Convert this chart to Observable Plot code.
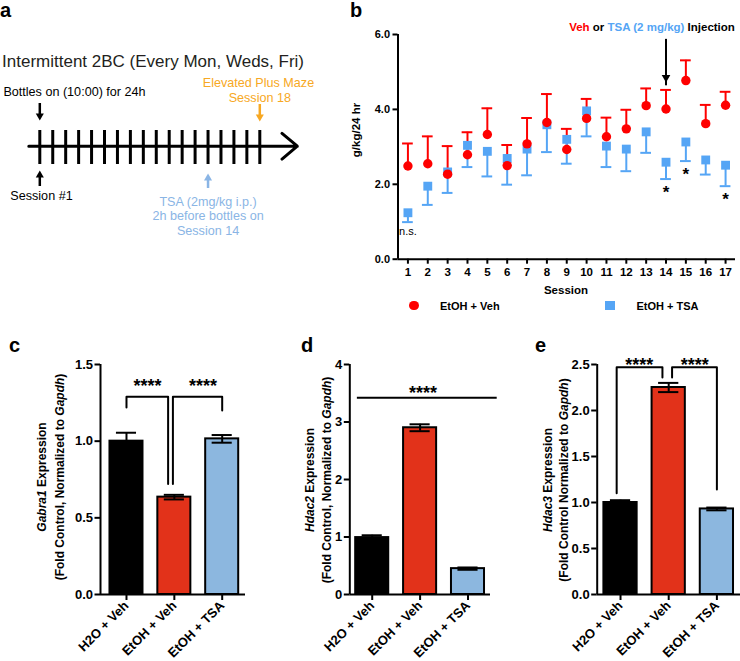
<!DOCTYPE html>
<html><head><meta charset="utf-8">
<script src="https://cdn.jsdelivr.net/npm/d3@7"></script>
<script src="https://cdn.jsdelivr.net/npm/@observablehq/plot@0.6"></script>
<style>
body{margin:0;background:#fff}
#root{position:relative;width:740px;height:661px;overflow:hidden;font-family:"Liberation Sans",Arial,Helvetica,sans-serif;color:#000}
#root svg{position:absolute;overflow:visible}
.t{position:absolute;white-space:nowrap;line-height:1}
</style></head><body><div id="root"></div>
<script>
// ---------- Panel a: timeline ----------
const timelineSessions = d3.range(1, 19);
const aTexts = [
  {x: 9.75, y: 61, t: "Intermittent 2BC (Every Mon, Weds, Fri)", c: "#231f20", s: 17},
  {x: 3.68, y: 91, t: "Bottles on (10:00) for 24h", c: "#000", s: 12.6},
  {x: 1.13, y: 195, t: "Session #1", c: "#000", s: 12.6},
  {x: 17.9, y: 82, t: "Elevated Plus Maze", c: "#f7a823", s: 12.6},
  {x: 18, y: 97.5, t: "Session 18", c: "#f7a823", s: 12.6},
  {x: 14, y: 201, t: "TSA (2mg/kg i.p.)", c: "#8ab5e5", s: 12.6},
  {x: 14, y: 215.5, t: "2h before bottles on", c: "#8ab5e5", s: 12.6},
  {x: 14, y: 230.5, t: "Session 14", c: "#8ab5e5", s: 12.6}
];
const aDownArrows = [{x: 1, from: 103, to: 120, c: "#000"}, {x: 18, from: 104, to: 121, c: "#f7a823"}];
const aUpArrows = [{x: 1, from: 186, to: 170, c: "#000"}, {x: 14, from: 188, to: 173, c: "#8ab5e5"}];

// ---------- Panel b: drinking sessions ----------
const sessions = d3.range(1, 18);
const vehMean = [2.49, 2.55, 2.27, 2.79, 3.33, 2.50, 3.08, 3.65, 2.93, 3.76, 3.27, 3.48, 4.10, 4.01, 4.77, 3.62, 4.11];
const vehSEM  = [0.60, 0.73, 0.75, 0.60, 0.70, 0.55, 0.69, 0.76, 0.55, 0.52, 0.51, 0.51, 0.46, 0.51, 0.54, 0.50, 0.36];
const tsaMean = [1.24, 1.95, 2.33, 3.04, 2.88, 2.69, 2.94, 3.59, 3.20, 3.96, 3.02, 2.94, 3.40, 2.59, 3.13, 2.65, 2.51];
const tsaSEM  = [0.25, 0.50, 0.56, 0.58, 0.67, 0.70, 0.70, 0.73, 0.65, 0.68, 0.56, 0.59, 0.56, 0.45, 0.51, 0.39, 0.56];
const starSessions = [14, 15, 17];
const nsSessions = [1];
const injectionArrow = [{x: 14, from: 5.87, to: 4.73}];
const bTicks = [0, 2, 4, 6];

// ---------- Panels c-e: qPCR ----------
const groups = ["H2O + Veh", "EtOH + Veh", "EtOH + TSA"];
const gabra1Mean = [1.00, 0.635, 1.015];
const gabra1SEM  = [0.055, 0.015, 0.025];
const hdac2Mean  = [0.99, 2.90, 0.45];
const hdac2SEM   = [0.04, 0.06, 0.02];
const hdac3Mean  = [1.00, 2.25, 0.93];
const hdac3SEM   = [0.025, 0.05, 0.015];

const RED = "#fe0000", BLUE = "#55a5f5";
const BAR_COLORS = ["#000000", "#e2321a", "#8cb7df"];
const FONT = "'Liberation Sans', Arial, Helvetica, sans-serif";

const root = document.getElementById("root");
function put(node, left, top) { node.style.left = left + "px"; node.style.top = top + "px"; root.appendChild(node); return node; }
function txt(content, x, y, css = {}, transform = "translate(-50%,-50%)") {
  const d = document.createElement("div");
  d.className = "t"; d.innerHTML = content;
  d.style.left = x + "px"; d.style.top = y + "px"; d.style.transform = transform;
  Object.assign(d.style, css); root.appendChild(d); return d;
}
// filled arrow: shaft (rule) + triangle head whose tip sits at "to"
function arrows(data, {fill, down, sw = 2.5, r = 3, shaftTrim}) {
  return [
    Plot.ruleX(data, {x: "x", y1: "from", y2: d => d.to + (down ? -shaftTrim : shaftTrim), stroke: fill, strokeWidth: sw}),
    Plot.dot(data, {x: "x", y: "to", symbol: "triangle", r, fill, stroke: "none", rotate: down ? 180 : 0, dy: down ? -4.6 : 4.6})
  ];
}

// ---------- Panel a ----------
const pa = Plot.plot({
  width: 310, height: 300, margin: 0,
  x: {domain: [1, 18], range: [39.3, 259.3], axis: null},
  y: {domain: [0, 300], range: [0, 300], axis: null},
  style: {background: "transparent", overflow: "visible", fontFamily: FONT},
  marks: [
    Plot.arrow([0], {x1: 0.15, x2: 20.9, y1: 145.7, y2: 145.7, strokeWidth: 3, headLength: 10, headAngle: 80, stroke: "#000"}),
    Plot.ruleX(timelineSessions, {x: d => d, y1: 130, y2: 164, strokeWidth: 3, stroke: "#000"}),
    ...arrows(aDownArrows, {fill: "c", down: true, shaftTrim: 4}),
    ...arrows(aUpArrows, {fill: "c", down: false, shaftTrim: 4}),
    Plot.text(aTexts, {x: "x", y: "y", text: "t", fill: "c", fontSize: "s"})
  ]
});
put(pa, 0, 0);

// ---------- Panel b ----------
const vehRows = sessions.map((s, i) => ({s, m: vehMean[i], e: vehSEM[i]}));
const tsaRows = sessions.map((s, i) => ({s, m: tsaMean[i], e: tsaSEM[i]}));
const capHalf = 0.27;
const pb = Plot.plot({
  width: 400, height: 320, marginLeft: 57.5, marginRight: 5, marginTop: 34, marginBottom: 61.3,
  x: {domain: [0.5, 17.5]}, y: {domain: [0, 6]},
  style: {background: "transparent", overflow: "visible", fontFamily: FONT, fontWeight: "bold"},
  marks: [
    Plot.axisY({ticks: bTicks, tickFormat: d3.format(".1f"), tickSize: 5, tickPadding: 3, fontSize: 11, strokeWidth: 2, label: null}),
    Plot.axisX({ticks: sessions, tickFormat: d => d, tickSize: 5, tickPadding: 4, fontSize: 11.5, strokeWidth: 2, label: null}),
    Plot.ruleX([0.5], {y1: 0, y2: 6, strokeWidth: 2}),
    Plot.ruleY([0], {x1: 0.5, x2: 17.5, strokeWidth: 2}),
    Plot.ruleX(vehRows, {x: "s", y1: "m", y2: d => d.m + d.e, stroke: RED, strokeWidth: 2}),
    Plot.ruleY(vehRows, {x1: d => d.s - capHalf, x2: d => d.s + capHalf, y: d => d.m + d.e, stroke: RED, strokeWidth: 2}),
    Plot.ruleX(tsaRows, {x: "s", y1: "m", y2: d => d.m - d.e, stroke: BLUE, strokeWidth: 2}),
    Plot.ruleY(tsaRows, {x1: d => d.s - capHalf, x2: d => d.s + capHalf, y: d => d.m - d.e, stroke: BLUE, strokeWidth: 2}),
    Plot.dot(tsaRows, {x: "s", y: "m", symbol: "square", r: 5, fill: BLUE}),
    Plot.dot(vehRows, {x: "s", y: "m", r: 4.7, fill: RED}),
    Plot.text(tsaRows.filter(d => starSessions.includes(d.s)), {x: "s", y: d => d.m - d.e, text: () => "*", fontSize: 17, dy: 13}),
    Plot.text(tsaRows.filter(d => nsSessions.includes(d.s)), {x: "s", y: d => d.m - d.e, text: () => "n.s.", fontSize: 11, fontWeight: "normal", dy: 9}),
    ...arrows(injectionArrow, {fill: "#000", down: true, sw: 2, r: 3.2, shaftTrim: 0.1})
  ]
});
put(pb, 340, 0);

// ---------- Panels c, d, e ----------
function barPanel({means, sems, yDomain, yTicks, fmt, left, marginLeft, marginRight, xDomain, extra}) {
  const rows = groups.map((g, i) => ({i: i + 1, m: means[i], e: sems[i], c: BAR_COLORS[i]}));
  const cap = 0.21, half = 0.345;
  return put(Plot.plot({
    width: 250, height: 341, marginLeft, marginRight, marginTop: 44, marginBottom: 67,
    x: {domain: xDomain}, y: {domain: yDomain},
    style: {background: "transparent", overflow: "visible", fontFamily: FONT, fontWeight: "bold"},
    marks: [
      Plot.rect(rows, {x1: d => d.i - half, x2: d => d.i + half, y1: 0, y2: "m", fill: "c", stroke: "#000", strokeWidth: 2}),
      Plot.ruleX(rows, {x: "i", y1: d => d.m - d.e, y2: d => d.m + d.e, strokeWidth: 2}),
      Plot.ruleY(rows, {x1: d => d.i - cap, x2: d => d.i + cap, y: d => d.m + d.e, strokeWidth: 2}),
      Plot.ruleY(rows, {x1: d => d.i - cap, x2: d => d.i + cap, y: d => d.m - d.e, strokeWidth: 2}),
      Plot.axisY({ticks: yTicks, tickFormat: fmt, tickSize: 5.5, tickPadding: 2, fontSize: 13, strokeWidth: 2, label: null}),
      Plot.axisX({ticks: [1, 2, 3], tickFormat: i => groups[i - 1], tickRotate: -45, tickSize: 6, tickPadding: 3, fontSize: 13, strokeWidth: 2, label: null}),
      Plot.ruleX([xDomain[0]], {y1: yDomain[0], y2: yDomain[1], strokeWidth: 2}),
      Plot.ruleY([0], {x1: xDomain[0], x2: xDomain[1], strokeWidth: 2}),
      ...extra
    ]
  }), left, 320);
}
function brackets(list) {
  const pts = list.flatMap((b, k) => b.pts.map(([x, y]) => ({x, y, k})));
  return [
    Plot.line(pts, {x: "x", y: "y", z: "k", strokeWidth: 2, stroke: "#000", curve: "linear"}),
    Plot.text(list, {x: "lx", y: "ly", text: () => "****", fontSize: 18, dy: 4.5})
  ];
}
const bracketsC = [
  {pts: [[1, 1.22], [1, 1.29], [1.87, 1.29], [1.87, 0.72]], lx: 1.44, ly: 1.385},
  {pts: [[1.97, 0.72], [1.97, 1.29], [3, 1.29], [3, 1.20]], lx: 2.6, ly: 1.385}
];
const bracketsE = [
  {pts: [[0.92, 1.10], [0.92, 2.47], [1.87, 2.47], [1.87, 2.36]], lx: 1.39, ly: 2.536},
  {pts: [[2.07, 2.36], [2.07, 2.47], [3, 2.47], [3, 1.14]], lx: 2.54, ly: 2.536}
];
barPanel({means: gabra1Mean, sems: gabra1SEM, yDomain: [0, 1.5], yTicks: [0, 0.5, 1, 1.5], fmt: d3.format(".1f"),
  left: 0, marginLeft: 100, marginRight: 5, xDomain: [0.457, 3.487], extra: brackets(bracketsC)});
barPanel({means: hdac2Mean, sems: hdac2SEM, yDomain: [0, 4], yTicks: [0, 1, 2, 3, 4], fmt: d3.format("d"),
  left: 250, marginLeft: 99.3, marginRight: 10, xDomain: [0.532, 3.47],
  extra: [Plot.ruleY([3.42], {x1: 0.69, x2: 3.61, strokeWidth: 2}), Plot.text([{x: 2.06, y: 3.58}], {x: "x", y: "y", text: () => "****", fontSize: 18, dy: 4.5})]});
barPanel({means: hdac3Mean, sems: hdac3SEM, yDomain: [0, 2.5], yTicks: [0, 0.5, 1, 1.5, 2, 2.5], fmt: d3.format(".1f"),
  left: 490, marginLeft: 106.7, marginRight: 0, xDomain: [0.516, 3.49], extra: brackets(bracketsE)});

// ---------- HTML text: panel letters, labels, legend ----------
const letter = {fontWeight: "bold", fontSize: "20px"};
txt("a", 0, 0, letter, "none");
txt("b", 350, 0, letter, "none");
txt("c", 9, 335, letter, "none");
txt("d", 301, 335, letter, "none");
txt("e", 535, 335, letter, "none");

const rot = "translate(-50%,-50%) rotate(-90deg)";
txt("g/kg/24 hr", 357.3, 130, {fontWeight: "bold", fontSize: "11.5px"}, rot);
txt('<span style="color:#fe0000">Veh</span> or <span style="color:#55a5f5">TSA (2 mg/kg)</span> Injection', 652, 27.5, {fontWeight: "bold", fontSize: "11.5px"});
txt("Session", 566, 291, {fontWeight: "bold", fontSize: "11.5px"});
// legend
const sw = (shape, color, x, y) => {
  const d = document.createElement("div");
  Object.assign(d.style, {position: "absolute", left: (x - 4.75) + "px", top: (y - 4.75) + "px", width: "9.5px", height: "9.5px", background: color, borderRadius: shape === "circle" ? "50%" : "0"});
  root.appendChild(d);
};
sw("circle", RED, 414, 305.5);
txt("EtOH + Veh", 440, 305.5, {fontWeight: "bold", fontSize: "11px"}, "translate(0,-50%)");
sw("square", BLUE, 610, 305.5);
txt("EtOH + TSA", 636.5, 305.5, {fontWeight: "bold", fontSize: "11px"}, "translate(0,-50%)");

const ylab = (l1, l2, x, y, lh) => txt(`${l1}<br>${l2}`, x, y, {fontWeight: "bold", fontSize: "12px", textAlign: "center", lineHeight: lh + "px"}, rot);
ylab("<i>Gabra1</i> Expression", "(Fold Control, Normalized to <i>Gapdh</i>)", 51, 477, 17.5);
ylab("<i>Hdac2</i> Expression", "(Fold Control, Normalized to <i>Gapdh</i>)", 318.8, 480, 17.3);
ylab("<i>Hdac3</i> Expression", "(Fold Control Normalized to <i>Gapdh</i>)", 556, 480, 16);
</script></body></html>
